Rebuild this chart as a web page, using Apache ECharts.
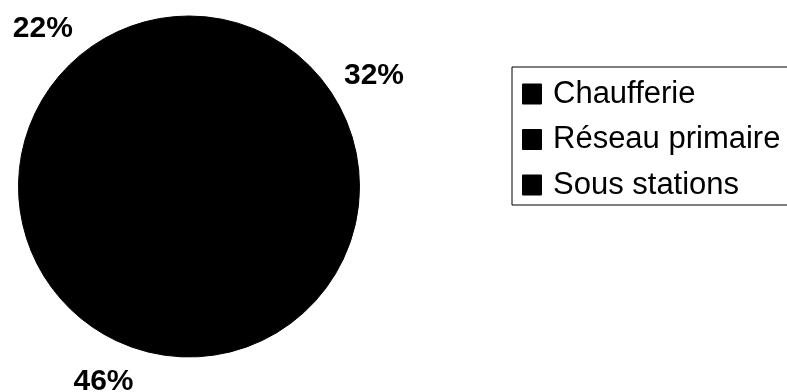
<!DOCTYPE html>
<html><head><meta charset="utf-8">
<script src="https://cdn.jsdelivr.net/npm/echarts@6/dist/echarts.min.js"></script>
<style>html,body{margin:0;padding:0;background:#fff}#c{width:787px;height:392px}</style>
</head><body><div id="c"></div>
<script>
var categories = ['Chaufferie', 'Réseau primaire', 'Sous stations'];
var values = [32, 46, 22];
// small label nudges (style only), by category index
var labelNudgeX = [6, -20, -11];
var labelNudgeY = [3, -6, 6];
var chart = echarts.init(document.getElementById('c'));
var pieData = categories.map(function (c, i) { return { name: c, value: values[i] }; });
chart.setOption({
  animation: false,
  backgroundColor: '#fff',
  color: ['#000', '#000', '#000'],
  legend: {
    orient: 'vertical', left: 512, top: 67,
    data: categories,
    icon: 'rect', itemWidth: 18, itemHeight: 19, itemGap: 9.5,
    borderColor: '#000', borderWidth: 1,
    padding: [9, 40, 2, 10],
    textStyle: { fontFamily: 'Liberation Sans', fontSize: 31, lineHeight: 36, color: '#000', padding: [0, 0, 0, 7] }
  },
  series: [{
    type: 'pie',
    center: [189, 186.5], radius: 170.5,
    startAngle: 90, clockwise: true,
    itemStyle: { color: '#000', borderColor: '#000', borderWidth: 1 },
    label: { show: false },
    labelLine: { show: false },
    emphasis: { disabled: true },
    data: pieData
  }, {
    type: 'pie',
    center: [189, 186.5], radius: [196, 222],
    startAngle: 90, clockwise: true,
    silent: true, legendHoverLink: false,
    itemStyle: { color: 'rgba(0,0,0,0)', borderWidth: 0 },
    label: {
      show: true, position: 'inside',
      formatter: function (p) { return p.value + '%'; },
      fontFamily: 'Liberation Sans', fontWeight: 'bold', fontSize: 30, color: '#000'
    },
    labelLayout: function (p) {
      return { dx: labelNudgeX[p.dataIndex], dy: labelNudgeY[p.dataIndex] };
    },
    labelLine: { show: false },
    emphasis: { disabled: true },
    data: pieData
  }]
});
</script></body></html>
